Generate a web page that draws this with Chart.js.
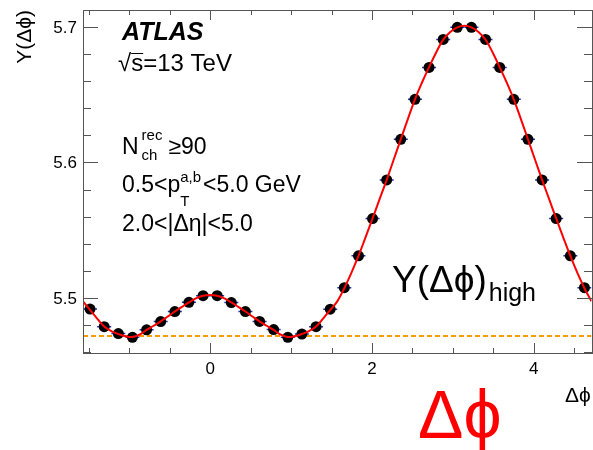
<!DOCTYPE html>
<html>
<head>
<meta charset="utf-8">
<title>Y(Δφ) high multiplicity</title>
<script src="https://cdn.jsdelivr.net/npm/chart.js@4.4.1/dist/chart.umd.min.js"></script>
<style>
  html, body { margin: 0; padding: 0; overflow: hidden; background: #fff; }
  #wrap { position: relative; width: 600px; height: 450px; }
</style>
</head>
<body>
<div id="wrap"><canvas id="chart"></canvas></div>
<script>
// bin centres in delta phi (36 bins from -pi/2 to 3pi/2)
const phiCenters = [
  -1.484, -1.309, -1.134, -0.960, -0.785, -0.611, -0.436, -0.262, -0.087,
   0.087,  0.262,  0.436,  0.611,  0.785,  0.960,  1.134,  1.309,  1.484,
   1.658,  1.833,  2.007,  2.182,  2.356,  2.531,  2.705,  2.880,  3.054,
   3.229,  3.403,  3.578,  3.752,  3.927,  4.102,  4.276,  4.451,  4.625
];
// per-trigger yield in each bin
const yieldValues = [
  5.4918, 5.4788, 5.4737, 5.4710, 5.4765, 5.4826, 5.4900, 5.4968, 5.5017,
  5.5017, 5.4966, 5.4900, 5.4827, 5.4767, 5.4710, 5.4734, 5.4788, 5.4917,
  5.5076, 5.5311, 5.5586, 5.5871, 5.6171, 5.6466, 5.6701, 5.6908, 5.6997,
  5.6997, 5.6908, 5.6701, 5.6466, 5.6171, 5.5871, 5.5586, 5.5311, 5.5076
];
// fit function sampled at bin edges and centres
const fitPhi = [
  -1.571, -1.484, -1.396, -1.309, -1.222, -1.134, -1.047, -0.960, -0.873,
  -0.785, -0.698, -0.611, -0.524, -0.436, -0.349, -0.262, -0.175, -0.087,
   0.000,  0.087,  0.175,  0.262,  0.349,  0.436,  0.524,  0.611,  0.698,
   0.785,  0.873,  0.960,  1.047,  1.134,  1.222,  1.309,  1.396,  1.484,
   1.571,  1.658,  1.745,  1.833,  1.920,  2.007,  2.094,  2.182,  2.269,
   2.356,  2.443,  2.531,  2.618,  2.705,  2.793,  2.880,  2.967,  3.054,
   3.142,  3.229,  3.316,  3.403,  3.491,  3.578,  3.665,  3.752,  3.840,
   3.927,  4.014,  4.102,  4.189,  4.276,  4.363,  4.451,  4.538,  4.625,
   4.712
];
const fitValues = [
  5.4975, 5.4912, 5.4848, 5.4790, 5.4756, 5.4734, 5.4718, 5.4712, 5.4729,
  5.4764, 5.4795, 5.4827, 5.4863, 5.4900, 5.4934, 5.4967, 5.4997, 5.5016,
  5.5022, 5.5016, 5.4997, 5.4967, 5.4934, 5.4900, 5.4863, 5.4827, 5.4795,
  5.4764, 5.4729, 5.4712, 5.4718, 5.4734, 5.4756, 5.4790, 5.4848, 5.4912,
  5.4975, 5.5072, 5.5185, 5.5310, 5.5447, 5.5587, 5.5729, 5.5872, 5.6022,
  5.6171, 5.6320, 5.6466, 5.6590, 5.6703, 5.6812, 5.6906, 5.6963, 5.6997,
  5.7008, 5.6997, 5.6963, 5.6906, 5.6812, 5.6703, 5.6590, 5.6466, 5.6320,
  5.6171, 5.6022, 5.5872, 5.5729, 5.5587, 5.5447, 5.5310, 5.5185, 5.5072,
  5.4975
];
// flat pedestal
const pedestal = 5.472;

const xTickLabels = [0, 2, 4];
const yTickLabels = [5.5, 5.6, 5.7];

const xMin = -Math.PI / 2, xMax = 3 * Math.PI / 2;
const yMin = 5.4594, yMax = 5.7125;

const FONT = '"Liberation Sans", Arial, Helvetica, "DejaVu Sans", sans-serif';

const near = (list, v) => list.some(t => Math.abs(t - v) < 1e-6);
const onStep = (v, step) => Math.abs(v / step - Math.round(v / step)) < 1e-6;

// ROOT style box, inward ticks, tick labels and all the text
const overlay = {
  id: 'overlay',
  afterDraw(chart) {
    const ctx = chart.ctx;
    const a = chart.chartArea;
    const xs = chart.scales.x, ys = chart.scales.y;
    const L = Math.round(a.left), R = Math.round(a.right);
    const T = Math.round(a.top), B = Math.round(a.bottom);
    ctx.save();
    ctx.fillStyle = '#555';
    ctx.fillRect(L, T, R - L + 1, 1);
    ctx.fillRect(L, B, R - L + 1, 1);
    ctx.fillRect(L, T, 1, B - T + 1);
    ctx.fillRect(R, T, 1, B - T + 1);
    xs.ticks.forEach(t => {
      if (!onStep(t.value, 0.5)) return;
      const px = Math.round(xs.getPixelForValue(t.value));
      const len = near(xTickLabels, t.value) ? 10 : 5;
      ctx.fillRect(px, B - len, 1, len);
      ctx.fillRect(px, T, 1, len);
    });
    ys.ticks.forEach(t => {
      if (!onStep(t.value, 0.02)) return;
      const py = Math.round(ys.getPixelForValue(t.value));
      const len = near(yTickLabels, t.value) ? 15 : 8;
      ctx.fillRect(L, py, len, 1);
      ctx.fillRect(R - len, py, len, 1);
    });

    const put = (s, x, y, size, style) => {
      ctx.font = (style ? style + ' ' : '') + size + 'px ' + FONT;
      ctx.fillText(s, x, y);
      return x + ctx.measureText(s).width;
    };
    ctx.fillStyle = '#000';
    ctx.textBaseline = 'alphabetic';

    // tick labels
    ctx.textAlign = 'center';
    xTickLabels.forEach(v => put(String(v), xs.getPixelForValue(v), B + 21, 17));
    ctx.textAlign = 'right';
    yTickLabels.forEach(v => put(v.toFixed(1), L - 6, ys.getPixelForValue(v) + 6, 17));
    ctx.textAlign = 'left';

    put('ATLAS', 122, 40, 25, 'italic bold');

    let cx = put('√', 118, 71, 24);
    const sx = cx;
    cx = put('s', cx, 71, 24);
    ctx.fillRect(sx, 53, cx - sx, 1);
    put('=13 TeV', cx, 71, 24);

    cx = put('N', 122, 154, 23);
    const e1 = put('rec', cx + 3, 140, 15);
    const e2 = put('ch', cx + 3, 160, 15);
    put('≥90', Math.max(e1, e2) + 6, 154, 23);

    cx = put('0.5<p', 122, 192, 23);
    const e3 = put('a,b', cx, 182, 15);
    put('T', cx, 206, 15);
    put('<5.0 GeV', e3 + 2, 192, 23);

    put('2.0<|Δη|<5.0', 122, 231, 23);

    cx = put('Y(Δϕ)', 392, 292, 37);
    put('high', cx + 2, 301, 25);

    // axis titles
    put('Δϕ', 565, 402, 21);
    ctx.save();
    ctx.translate(31, 10);
    ctx.rotate(-Math.PI / 2);
    ctx.textAlign = 'right';
    put('Y(Δϕ)', 0, 0, 21);
    ctx.restore();

    ctx.fillStyle = '#ff0000';
    put('Δϕ', 418, 438, 68);
    ctx.restore();
  }
};

const points = phiCenters.map((v, i) => ({ x: v, y: yieldValues[i] }));
const fitPoints = fitPhi.map((v, i) => ({ x: v, y: fitValues[i] }));

new Chart(document.getElementById('chart'), {
  type: 'line',
  data: {
    datasets: [
      {
        label: 'fit',
        data: fitPoints,
        borderColor: '#ff0000',
        borderWidth: 2,
        pointRadius: 0,
        tension: 0.4,
        order: 0
      },
      {
        label: 'data',
        data: points,
        showLine: false,
        pointStyle: 'circle',
        pointRadius: 5.5,
        pointBackgroundColor: '#000',
        pointBorderWidth: 0,
        order: 1
      },
      {
        label: 'bin width',
        data: points,
        showLine: false,
        pointStyle: 'line',
        pointRadius: 7,
        pointBorderColor: '#2233bb',
        pointBorderWidth: 1.5,
        order: 2
      },
      {
        label: 'pedestal',
        data: [{ x: xMin, y: pedestal }, { x: xMax, y: pedestal }],
        borderColor: '#ff9900',
        borderWidth: 2,
        borderDash: [5, 3],
        pointRadius: 0,
        order: 3
      }
    ]
  },
  options: {
    responsive: true,
    maintainAspectRatio: false,
    devicePixelRatio: 1,
    animation: false,
    layout: { padding: { left: 0, top: 10, right: 5, bottom: 0 } },
    plugins: { legend: { display: false }, tooltip: { enabled: false } },
    scales: {
      x: {
        type: 'linear',
        min: xMin,
        max: xMax,
        grid: { display: false, drawTicks: false },
        border: { display: false },
        ticks: { display: false, stepSize: 0.5, includeBounds: false, autoSkip: false },
        afterFit: s => { s.height = 97; }
      },
      y: {
        min: yMin,
        max: yMax,
        grid: { display: false, drawTicks: false },
        border: { display: false },
        ticks: { display: false, stepSize: 0.02, includeBounds: false, autoSkip: false },
        afterFit: s => { s.width = 83; }
      }
    }
  },
  plugins: [overlay]
});
</script>
</body>
</html>
